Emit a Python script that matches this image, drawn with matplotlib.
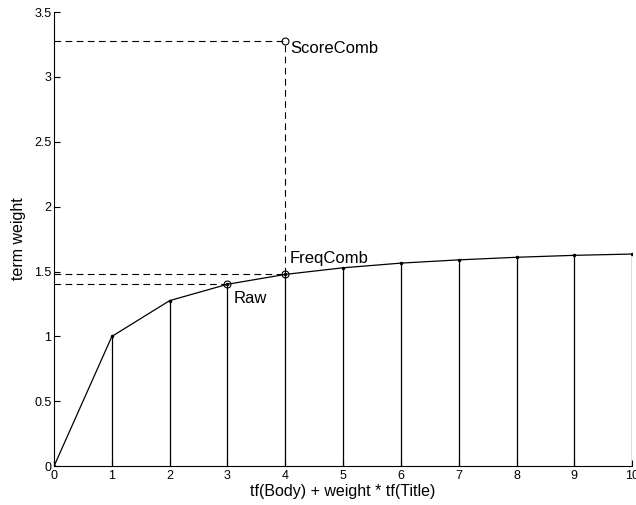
import matplotlib
matplotlib.use("Agg")
import matplotlib.pyplot as plt

# curve values
tf = [0, 1, 2, 3, 4, 5, 6, 7, 8, 9, 10]
weight = [0.0, 1.0, 1.276, 1.402, 1.478, 1.529, 1.565, 1.59, 1.61, 1.625, 1.635]

# highlighted points
mark_x = [3, 4, 4]
mark_y = [1.402, 1.478, 3.28]
mark_names = ["Raw", "FreqComb", "ScoreComb"]

plt.rcParams["font.family"] = ["Liberation Sans", "DejaVu Sans"]

fig = plt.figure(figsize=(6.36, 5.05), dpi=100)
ax = fig.add_axes([0.085, 0.077, 0.909, 0.899])

ax.plot(tf, weight, color="black", linewidth=0.9, marker=".", markersize=3)
for x, y in zip(tf[1:], weight[1:]):
    ax.plot([x, x], [0, y], color="black", linewidth=0.9)

# dashed guides from the y axis
for x, y in zip(mark_x, mark_y):
    ax.plot([0, x], [y, y], color="black", linewidth=0.8, linestyle=(0, (6, 4)))
ax.plot([mark_x[1], mark_x[2]], [mark_y[1], mark_y[2]], color="black",
        linewidth=0.8, linestyle=(0, (6, 4)))

ax.plot(mark_x, mark_y, linestyle="none", marker="o", markersize=5,
        markerfacecolor="none", markeredgecolor="black", markeredgewidth=0.8)

ax.text(3.1, 1.29, mark_names[0], fontsize=12, ha="left", va="center")
ax.text(4.08, 1.6, mark_names[1], fontsize=12, ha="left", va="center")
ax.text(4.08, 3.22, mark_names[2], fontsize=12, ha="left", va="center")

ax.set_xlim(0, 10)
ax.set_ylim(0, 3.5)
ax.set_xticks(range(0, 11))
ax.set_yticks([0, 0.5, 1, 1.5, 2, 2.5, 3, 3.5])
ax.set_yticklabels(["0", "0.5", "1", "1.5", "2", "2.5", "3", "3.5"])
ax.tick_params(direction="in", length=4, width=0.8, labelsize=9, pad=2)
ax.tick_params(axis="x", pad=3)
ax.spines["top"].set_visible(False)
ax.spines["right"].set_visible(False)
ax.set_xlabel("tf(Body) + weight * tf(Title)", fontsize=11.5, labelpad=1.5)
ax.set_ylabel("term weight", fontsize=11.5, labelpad=6)

fig.savefig("out.png", dpi=100)
